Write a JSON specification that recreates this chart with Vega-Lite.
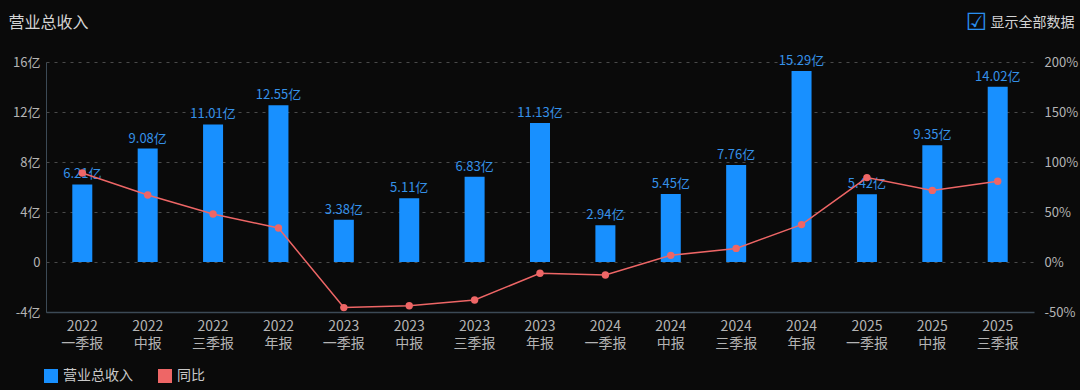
{
  "$schema": "https://vega.github.io/schema/vega-lite/v6.json",
  "width": 988,
  "height": 250,
  "autosize": {"type": "none"},
  "padding": {"left": 46, "top": 62, "right": 46, "bottom": 78},
  "background": "#0a0a0a",
  "config": {
    "view": {"stroke": null},
    "font": "Noto Sans CJK SC",
    "axis": {"labelFont": "Noto Sans CJK SC", "titleFont": "Noto Sans CJK SC"}
  },
  "data": {
    "values": [
      {"period": "2022 一季报", "revenue": 6.21, "label": "6.21亿", "yoy": 89},
      {"period": "2022 中报", "revenue": 9.08, "label": "9.08亿", "yoy": 67},
      {"period": "2022 三季报", "revenue": 11.01, "label": "11.01亿", "yoy": 48},
      {"period": "2022 年报", "revenue": 12.55, "label": "12.55亿", "yoy": 34},
      {"period": "2023 一季报", "revenue": 3.38, "label": "3.38亿", "yoy": -45.6},
      {"period": "2023 中报", "revenue": 5.11, "label": "5.11亿", "yoy": -43.7},
      {"period": "2023 三季报", "revenue": 6.83, "label": "6.83亿", "yoy": -38.0},
      {"period": "2023 年报", "revenue": 11.13, "label": "11.13亿", "yoy": -11.3},
      {"period": "2024 一季报", "revenue": 2.94, "label": "2.94亿", "yoy": -13.0},
      {"period": "2024 中报", "revenue": 5.45, "label": "5.45亿", "yoy": 6.65},
      {"period": "2024 三季报", "revenue": 7.76, "label": "7.76亿", "yoy": 13.6},
      {"period": "2024 年报", "revenue": 15.29, "label": "15.29亿", "yoy": 37.4},
      {"period": "2025 一季报", "revenue": 5.42, "label": "5.42亿", "yoy": 84.4},
      {"period": "2025 中报", "revenue": 9.35, "label": "9.35亿", "yoy": 71.6},
      {"period": "2025 三季报", "revenue": 14.02, "label": "14.02亿", "yoy": 80.7}
    ]
  },
  "encoding": {
    "x": {
      "field": "period",
      "type": "ordinal",
      "sort": null,
      "scale": {"paddingInner": 0.694, "paddingOuter": 0.402},
      "axis": {
        "title": "营业总收入",
        "titleX": -38,
        "titleY": -285,
        "titleAlign": "left",
        "titleAnchor": null,
        "titleBaseline": "alphabetic",
        "titleAngle": 0,
        "titleFontSize": 16,
        "titleFontWeight": "normal",
        "titleColor": "#d4d4d4",
        "labelExpr": "split(datum.label, ' ')",
        "labelAngle": 0,
        "labelColor": "#b4b4b4",
        "labelFontSize": 14,
        "labelLineHeight": 17,
        "labelPadding": 7,
        "ticks": false,
        "domainColor": "#3c4a56",
        "domainWidth": 1.5,
        "grid": false
      }
    }
  },
  "layer": [
    {
      "encoding": {
        "y": {
          "field": "revenue",
          "type": "quantitative",
          "scale": {"domain": [-4, 16], "nice": false, "zero": false},
          "axis": {
            "values": [-4, 0, 4, 8, 12, 16],
            "labelExpr": "datum.value == 0 ? '0' : datum.value + '亿'",
            "labelColor": "#b4b4b4",
            "labelFontSize": 13,
            "labelPadding": 6,
            "ticks": false,
            "domain": true,
            "domainColor": "#3c4a56",
            "grid": true,
            "gridColor": "#4a4a4a",
            "gridDash": [3, 5],
            "title": "☑",
            "titleX": 930,
            "titleY": -40,
            "titleAngle": 0,
            "titleAlign": "center",
            "titleBaseline": "middle",
            "titleFont": "DejaVu Sans",
            "titleFontSize": 24,
            "titleFontWeight": "normal",
            "titleColor": "#2a8ff0"
          }
        }
      },
      "layer": [
        {
          "mark": {"type": "bar"},
          "encoding": {
            "color": {
              "datum": "营业总收入",
              "type": "nominal",
              "scale": {"domain": ["营业总收入", "同比"], "range": ["#1890ff", "#ee6666"]},
              "legend": {
                "orient": "none",
                "legendX": -2,
                "legendY": 307,
                "direction": "horizontal",
                "title": null,
                "symbolType": "square",
                "symbolSize": 196,
                "symbolStrokeWidth": 0,
                "symbolOpacity": 1,
                "labelFontSize": 14,
                "labelColor": "#c8c8c8",
                "labelOffset": 5,
                "columnPadding": 25,
                "padding": 0
              }
            }
          }
        },
        {
          "mark": {"type": "text", "baseline": "bottom", "dy": -3, "fontSize": 13, "color": "#3591e8"},
          "encoding": {"text": {"field": "label"}}
        }
      ]
    },
    {
      "mark": {"type": "line", "strokeWidth": 1.5, "point": {"filled": true, "size": 55}},
      "encoding": {
        "y": {
          "field": "yoy",
          "type": "quantitative",
          "scale": {"domain": [-50, 200], "nice": false, "zero": false},
          "axis": {
            "orient": "right",
            "values": [-50, 0, 50, 100, 150, 200],
            "labelExpr": "datum.value + '%'",
            "labelColor": "#b4b4b4",
            "labelFontSize": 13,
            "labelPadding": 10,
            "ticks": false,
            "domain": false,
            "grid": false,
            "title": "显示全部数据",
            "titleX": -44,
            "titleY": -40,
            "titleAngle": 0,
            "titleAlign": "left",
            "titleBaseline": "middle",
            "titleFontSize": 14,
            "titleFontWeight": "normal",
            "titleColor": "#d4d4d4"
          }
        },
        "color": {"datum": "同比", "type": "nominal"}
      }
    }
  ],
  "resolve": {"scale": {"y": "independent"}}
}
